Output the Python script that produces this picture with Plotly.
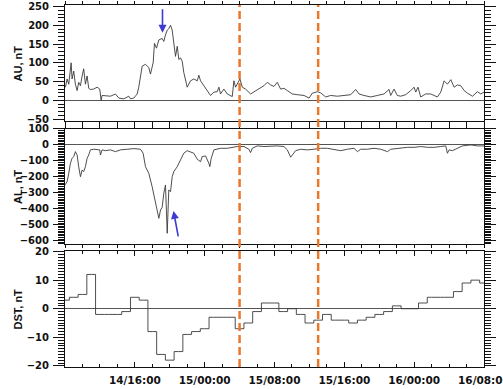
import pandas as pd
import plotly.graph_objects as go
from plotly.subplots import make_subplots

BASE = pd.Timestamp("2000-01-14 08:00")

# AU index (hours after 14/08:00, nT)
au_hours = [0.05, 0.24, 0.43, 0.70, 0.81, 1.00, 1.19, 1.39, 1.57, 1.77, 1.96, 2.14, 2.34, 2.53,
            2.72, 2.91, 3.29, 3.68, 3.98, 4.14, 4.25, 4.63, 5.21, 5.78, 6.16, 6.73, 7.31, 7.50,
            7.88, 8.27, 8.45, 8.84, 9.22, 9.60, 9.79, 10.10, 10.25, 10.48, 10.75, 11.13, 11.32,
            11.51, 11.71, 11.89, 12.09, 12.28, 12.47, 12.66, 12.86, 13.04, 13.23, 13.43, 13.61,
            13.81, 14.00, 14.38, 14.76, 15.15, 15.33, 15.53, 15.91, 16.29, 16.67, 17.06, 17.44,
            17.63, 17.82, 18.20, 18.59, 19.16, 19.35, 19.54, 19.73, 20.04, 20.31, 20.69, 21.26,
            21.64, 22.21, 22.79, 23.17, 23.56, 23.94, 24.32, 24.70, 25.08, 25.47, 26.04, 26.62,
            27.38, 27.96, 28.33, 28.91, 29.29, 29.86, 30.44, 31.20, 31.96, 32.73, 33.30, 33.68,
            34.25, 35.02, 35.79, 36.55, 37.12, 37.31, 37.69, 38.07, 38.45, 39.03, 39.60, 39.99,
            40.18, 40.44, 40.75, 41.32, 41.90, 42.66, 43.05, 43.43, 43.81, 44.20, 44.58, 44.96,
            45.34, 45.73, 46.11, 46.68, 47.25, 47.63, 48.00]
au_values = [35, 57, 43, 100, 57, 78, 43, 26, 48, 39, 65, 84, 43, 65,
             32, 29, 30, 35, 30, 0, 13, 13, 11, 17, 6, 4, 11, 4,
             6, 17, 35, 91, 96, 87, 70, 100, 152, 139, 161, 165, 157,
             174, 187, 191, 200, 187, 152, 117, 144, 109, 113, 104, 74,
             52, 35, 52, 57, 52, 67, 52, 39, 26, 13, 22, 23,
             35, 17, 30, 17, 10, 52, 35, 43, 57, 35, 30, 17,
             22, 30, 39, 48, 41, 37, 48, 30, 32, 26, 17, 15,
             13, 6, 19, 23, 20, 9, 13, 11, 13, 15, 29, 17,
             13, 9, 13, 17, 29, 13, 30, 13, 11, 15, 26, 35,
             22, 35, 9, 17, 17, 9, 22, 52, 43, 55, 35, 41,
             39, 26, 19, 11, 23, 17, 22]

# AL index (hours after 14/08:00, nT)
al_hours = [0.0, 0.24, 0.43, 0.62, 0.81, 1.00, 1.19, 1.39, 1.57, 1.77, 1.96, 2.14, 2.34, 2.53,
            2.72, 2.91, 3.29, 3.68, 3.98, 4.06, 4.25, 4.63, 5.21, 5.78, 6.35, 7.12, 7.88, 8.65,
            8.95, 9.22, 9.60, 9.98, 10.37, 10.75, 10.94, 11.13, 11.32, 11.51, 11.71, 11.89, 12.09,
            12.28, 12.47, 12.86, 13.23, 13.61, 14.00, 14.38, 14.76, 15.15, 15.53, 15.72, 16.10,
            16.48, 16.59, 16.75, 17.06, 17.82, 18.59, 19.73, 20.50, 21.07, 21.26, 21.45, 22.03,
            22.79, 23.56, 24.32, 25.08, 25.47, 25.85, 26.04, 26.42, 27.00, 27.76, 28.52, 29.29,
            30.06, 30.82, 31.58, 32.35, 33.11, 33.50, 33.88, 34.64, 35.40, 36.17, 36.94, 37.31,
            38.07, 39.23, 39.99, 40.75, 41.52, 42.28, 43.05, 43.62, 43.81, 44.00, 44.38, 44.96,
            45.53, 46.49, 47.25, 48.00]
al_values = [-251, -230, -178, -115, -84, -73, -42, -63, -136, -199, -157, -167, -136, -84,
             -63, -31, -27, -27, -31, -63, -31, -36, -31, -42, -31, -27, -23, -27,
             -52, -136, -178, -261, -366, -460, -408, -391, -303, -251, -554, -282, -293,
             -199, -167, -136, -94, -52, -36, -42, -52, -90, -105, -73, -69,
             -115, -136, -84, -31, -21, -21, -10, -10, -27, -48, -21, -6,
             -10, -6, -6, -10, -31, -77, -63, -36, -27, -31, -27, -21,
             -21, -27, -36, -27, -21, -42, -27, -27, -21, -27, -42, -27,
             -21, -15, -15, -10, -15, -15, -10, -6, -52, -31, -36, -21,
             -6, 0, -6, -6]

# Dst index, hourly values (nT) from 14/08:00 to 16/08:00
dst_hours = list(range(49))
dst_values = [3, 4, 5, 12, -2, -2, -2, -1, 4, 3, -8, -16, -18, -15, -9, -8, -7,
              -3, -3, -3, -7, -5, -1, 2, 2, -1, 0, -2, -5, -4, -2, -4, -4, -5,
              -4, -3, -2, -1, 1, 0, 0, 2, 4, 4, 4, 6, 9, 10, 9]

tick_labels = ["14/16:00", "15/00:00", "15/08:00", "15/16:00", "16/00:00", "16/08:00"]
tick_hours = [8, 16, 24, 32, 40, 48]
event_hours = [20, 29]

def t(hours):
    return [BASE + pd.Timedelta(hours=h) for h in hours]

fig = make_subplots(rows=3, cols=1, shared_xaxes=False)

LINE = dict(color="#3a3a3a", width=0.9)
fig.add_trace(go.Scatter(x=t(au_hours), y=au_values, mode="lines", line=LINE), row=1, col=1)
fig.add_trace(go.Scatter(x=t(al_hours), y=al_values, mode="lines", line=LINE), row=2, col=1)
fig.add_trace(go.Scatter(x=t(dst_hours), y=dst_values, mode="lines",
                         line=dict(color="#3a3a3a", width=0.9, shape="hvh")), row=3, col=1)

xrange = [BASE, BASE + pd.Timedelta(hours=48)]
tickfont = dict(family="DejaVu Sans", size=10, color="#111", weight="bold")
xtickfont = dict(family="DejaVu Sans", size=10.5, color="#111", weight="bold")

for i, dom in enumerate([[0.6796, 1.0], [0.3398, 0.6575], [0.0, 0.3204]], start=1):
    last = (i == 3)
    fig.update_xaxes(
        row=i, col=1, type="date", range=xrange, automargin=False,
        tickmode="array", tickvals=t(tick_hours),
        ticktext=tick_labels if last else [""] * len(tick_labels),
        showticklabels=last, tickfont=xtickfont, ticklabeloverflow="allow",
        ticks="inside" if last else "outside", ticklen=6 if not last else 5,
        tickcolor="#111", tickwidth=1,
        minor=dict(ticks="inside" if last else "outside", dtick=2 * 3600 * 1000,
                   tick0=BASE, ticklen=3, tickcolor="#111", tickwidth=1),
        showline=True, linecolor="#111", linewidth=1, mirror="allticks",
        showgrid=False, zeroline=False, ticklabelstandoff=3,
    )
    fig.update_yaxes(row=i, col=1, domain=dom, automargin=False)

fig.update_yaxes(row=1, col=1, range=[-55, 254], tickmode="linear", tick0=-50, dtick=50,
                 minor=dict(dtick=10, tick0=0, ticks="outside", ticklen=6, tickcolor="#111"))
fig.update_yaxes(row=2, col=1, range=[-621, 100], tickmode="linear", tick0=-600, dtick=100,
                 minor=dict(dtick=10, tick0=0, ticks="outside", ticklen=6, tickcolor="#111"))
fig.update_yaxes(row=3, col=1, range=[-20.4, 20.2], tickmode="linear", tick0=-20, dtick=10,
                 minor=dict(dtick=1, tick0=0, ticks="outside", ticklen=6, tickcolor="#111"))
fig.update_yaxes(ticks="outside", ticklen=11, tickcolor="#111", tickwidth=1,
                 showline=True, linecolor="#111", linewidth=1, mirror="allticks",
                 showgrid=False, zeroline=True, zerolinecolor="#555", zerolinewidth=1,
                 tickfont=tickfont, ticklabelstandoff=2)

titles = ["AU, nT", "AL, nT", "DST, nT"]
annotations = []
for i, title in enumerate(titles, start=1):
    sfx = "" if i == 1 else str(i)
    annotations.append(dict(text=title, xref="x%s domain" % sfx, yref="y%s domain" % sfx,
                            x=-0.111, y=0.5, showarrow=False, textangle=-90,
                            xanchor="center", yanchor="middle",
                            font=dict(family="Liberation Sans", size=11, color="#111",
                                      weight="bold")))

# blue arrows marking the substorm peak
annotations.append(dict(x=BASE + pd.Timedelta(hours=11.17), y=180, xref="x", yref="y",
                        ax=0, ay=-25, showarrow=True, arrowhead=2, arrowsize=1,
                        arrowwidth=1.6, arrowcolor="#3c3cd0", text=""))
annotations.append(dict(x=BASE + pd.Timedelta(hours=12.43), y=-414, xref="x2", yref="y2",
                        ax=5, ay=27, showarrow=True, arrowhead=2, arrowsize=1,
                        arrowwidth=1.6, arrowcolor="#3c3cd0", text=""))

shapes = []
for h in event_hours:
    shapes.append(dict(type="line", xref="x", yref="paper",
                       x0=BASE + pd.Timedelta(hours=h), x1=BASE + pd.Timedelta(hours=h),
                       y0=0, y1=1, line=dict(color="#e8782a", width=2.5, dash="8px,4px")))

fig.update_layout(width=503, height=389, margin=dict(l=65, r=19, t=5, b=22),
                  paper_bgcolor="white", plot_bgcolor="white", showlegend=False,
                  annotations=annotations, shapes=shapes)

fig.write_html("out.html")
